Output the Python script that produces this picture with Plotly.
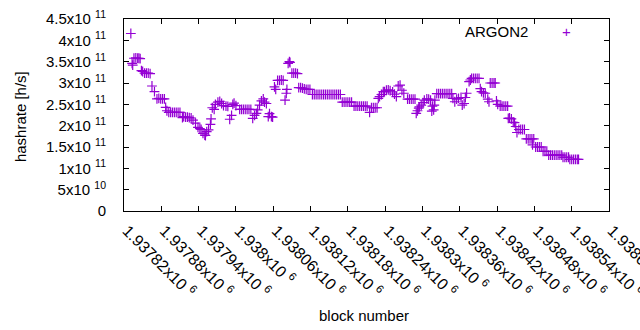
import plotly.graph_objects as go

BASE = 1937820
# block offsets (relative to BASE) and hashrate in units of 1e11 h/s
block_offsets = [
    11, 13, 14, 16, 19, 22, 24, 26,
    28, 30, 33, 36, 39, 42,
    45, 49, 53, 56, 59, 62, 65,
    67, 69, 72, 75, 78, 81, 84, 87, 90,
    94, 96, 99, 102, 105, 108, 111,
    115, 119, 122, 124, 127, 130, 131, 133, 136, 139, 140,
    142, 145, 147, 151, 154, 157, 160, 164, 167,
    170, 173, 175, 177, 180,
    186, 189, 192, 195, 198, 201, 204,
    207, 210, 213, 215, 218, 221, 224, 226, 229, 232, 234, 237, 239,
    242, 244, 247, 250, 253, 256,
    259, 261, 262, 264, 266, 267,
    270, 273, 276, 279,
    281, 284, 287, 290, 293, 296, 299,
    303, 306, 309, 312, 315, 318, 321, 324, 327, 330, 333, 336, 339, 342, 345, 348,
    351, 354, 357, 360, 363, 366,
    370, 373, 376, 379, 382, 385, 388, 391,
    395, 398, 401, 404, 407,
    409, 411, 414, 417, 419, 422, 425, 428, 432, 435, 438, 441, 444, 447, 450,
    456, 459, 462, 465, 468,
    470, 472, 474, 475, 478, 481, 483, 487, 490, 493, 495, 496, 498, 499, 500,
    503, 506, 509, 512, 515, 518, 521, 524, 527,
    529, 532, 535, 538, 542, 544, 547, 549, 551,
    555, 557, 559, 562, 565, 568, 571,
    573, 575, 578, 581, 585, 587,
    589, 592, 595, 597,
    599, 601,
    605, 608, 611, 614, 617,
    618, 620, 623, 626, 628, 630, 632,
    635, 638, 641, 644,
    647, 650, 653, 656, 657, 659,
    662, 665, 668, 671,
    674, 677, 680,
    683, 686, 689, 692, 695, 698, 701, 704,
    706, 709, 712, 715,
    717, 720, 723, 726, 729, 731,
]
hashrate_e11 = [
    4.16, 3.46, 3.42, 3.58, 3.59, 3.58, 3.58, 3.57,
    3.29, 3.27, 3.23, 3.23, 3.23, 3.22,
    2.93, 2.80, 2.63, 2.64, 2.63, 2.63, 2.63,
    2.43, 2.35, 2.31, 2.31, 2.31, 2.31, 2.31, 2.31, 2.31,
    2.19, 2.21, 2.20, 2.20, 2.19, 2.18, 2.13,
    2.06, 1.96, 1.93, 1.91, 1.82, 1.78, 1.77, 1.86, 1.90, 2.03, 2.16,
    2.42, 2.38, 2.50, 2.55, 2.57, 2.52, 2.47, 2.46, 2.45,
    2.15, 2.24, 2.50, 2.53, 2.47,
    2.38, 2.38, 2.38, 2.38, 2.38, 2.38, 2.38,
    2.17, 2.24, 2.29, 2.37, 2.48, 2.58, 2.63, 2.55, 2.52, 2.21, 2.28, 2.21, 2.20,
    2.91, 2.85, 3.06, 3.06, 3.07, 3.06,
    2.60, 2.76, 2.85, 3.46, 3.50, 3.48,
    3.23, 3.23, 3.23, 3.22,
    2.89, 2.89, 2.88, 2.86, 2.85, 2.85, 2.85,
    2.73, 2.73, 2.73, 2.73, 2.73, 2.73, 2.73, 2.73, 2.73, 2.73, 2.73, 2.73, 2.73, 2.73, 2.73, 2.73,
    2.55, 2.55, 2.55, 2.55, 2.55, 2.55,
    2.46, 2.46, 2.46, 2.46, 2.46, 2.46, 2.46, 2.46,
    2.31, 2.42, 2.42, 2.42, 2.42,
    2.64, 2.68, 2.73, 2.80, 2.80, 2.83, 2.84, 2.82, 2.79, 2.74, 2.68, 2.93, 2.95, 2.83, 2.76,
    2.62, 2.62, 2.62, 2.62, 2.62,
    2.29, 2.35, 2.41, 2.44, 2.48, 2.54, 2.60, 2.63, 2.62, 2.60, 2.34, 2.46, 2.37, 2.48, 2.60,
    2.75, 2.75, 2.75, 2.75, 2.75, 2.75, 2.75, 2.75, 2.75,
    2.64, 2.56, 2.62, 2.64, 2.66, 2.48, 2.52, 2.66, 2.76,
    3.03, 3.07, 3.11, 3.11, 3.11, 3.11, 3.11,
    2.87, 2.80, 2.77, 2.76, 2.62, 2.56,
    3.00, 3.00, 3.00, 3.00,
    2.58, 2.50,
    2.46, 2.46, 2.46, 2.46, 2.46,
    2.17, 2.18, 2.16, 2.08, 2.07, 1.98, 1.84,
    1.91, 1.91, 1.91, 1.91,
    1.69, 1.69, 1.69, 1.69, 1.55, 1.69,
    1.50, 1.50, 1.50, 1.50,
    1.40, 1.40, 1.40,
    1.31, 1.31, 1.31, 1.31, 1.31, 1.31, 1.31, 1.31,
    1.26, 1.26, 1.26, 1.26,
    1.21, 1.21, 1.21, 1.21, 1.21, 1.21,
]

x_tick_vals = [1937820, 1937880, 1937940, 1938000, 1938060, 1938120, 1938180,
               1938240, 1938300, 1938360, 1938420, 1938480, 1938540, 1938600]
x_tick_text = ["1.93782x10 <sup>6</sup>", "1.93788x10 <sup>6</sup>", "1.93794x10 <sup>6</sup>",
               "1.938x10 <sup>6</sup>", "1.93806x10 <sup>6</sup>", "1.93812x10 <sup>6</sup>",
               "1.93818x10 <sup>6</sup>", "1.93824x10 <sup>6</sup>", "1.9383x10 <sup>6</sup>",
               "1.93836x10 <sup>6</sup>", "1.93842x10 <sup>6</sup>", "1.93848x10 <sup>6</sup>",
               "1.93854x10 <sup>6</sup>", "1.9386x10 <sup>6</sup>"]
y_tick_vals = [0, 0.5e11, 1e11, 1.5e11, 2e11, 2.5e11, 3e11, 3.5e11, 4e11, 4.5e11]
y_tick_text = ["0", "5x10 <sup>10</sup>", "1x10 <sup>11</sup>", "1.5x10 <sup>11</sup>",
               "2x10 <sup>11</sup>", "2.5x10 <sup>11</sup>", "3x10 <sup>11</sup>",
               "3.5x10 <sup>11</sup>", "4x10 <sup>11</sup>", "4.5x10 <sup>11</sup>"]

series_name = "ARGON2"
color = "#9400D3"
FONT = "Liberation Sans"

xs = [BASE + o for o in block_offsets]
ys = [v * 1e11 for v in hashrate_e11]

fig = go.Figure()
fig.add_trace(go.Scatter(
    x=xs, y=ys, mode="markers", name=series_name, showlegend=False,
    marker=dict(symbol="cross-thin", size=7, color=color,
                line=dict(color=color, width=1.2)),
))

axis_common = dict(showline=True, linecolor="black", linewidth=1, mirror="ticks",
                   ticks="inside", ticklen=5, tickcolor="black", showgrid=False,
                   zeroline=False, automargin=False, ticklabeloverflow="allow")

fig.update_xaxes(range=[1937820, 1938600], tickvals=x_tick_vals,
                 ticktext=["\u00a0" + t for t in x_tick_text],
                 tickangle=45, ticklabelstandoff=0,
                 tickfont=dict(family=FONT, size=16, color="black"), **axis_common)
fig.update_yaxes(range=[0, 4.5e11], tickvals=y_tick_vals, ticktext=y_tick_text,
                 ticklabelstandoff=14,
                 tickfont=dict(family=FONT, size=15, color="black"), **axis_common)

fig.update_layout(
    width=640, height=330,
    margin=dict(l=124, r=31, t=19, b=119, autoexpand=False),
    paper_bgcolor="white", plot_bgcolor="white",
    font=dict(family=FONT, size=15, color="black"),
    showlegend=False,
    annotations=[
        dict(text="block number", xref="paper", yref="paper", x=0.494, y=-0.542,
             xanchor="center", yanchor="middle", showarrow=False,
             font=dict(family=FONT, size=15, color="black")),
        dict(text="hashrate [h/s]", xref="paper", yref="paper", x=-0.212, y=0.49,
             xanchor="center", yanchor="middle", showarrow=False, textangle=-90,
             font=dict(family=FONT, size=15, color="black")),
        dict(text=series_name, xref="paper", yref="paper", x=0.838, y=0.937,
             xanchor="right", yanchor="middle", showarrow=False,
             font=dict(family=FONT, size=15, color="black")),
        dict(text="+", xref="paper", yref="paper", x=0.913, y=0.933,
             xanchor="center", yanchor="middle", showarrow=False,
             font=dict(family=FONT, size=15, color=color)),
    ],
)

fig.write_html("out.html", config={"displayModeBar": False},
               post_script="document.body.style.margin='0';document.body.style.overflow='hidden';")
